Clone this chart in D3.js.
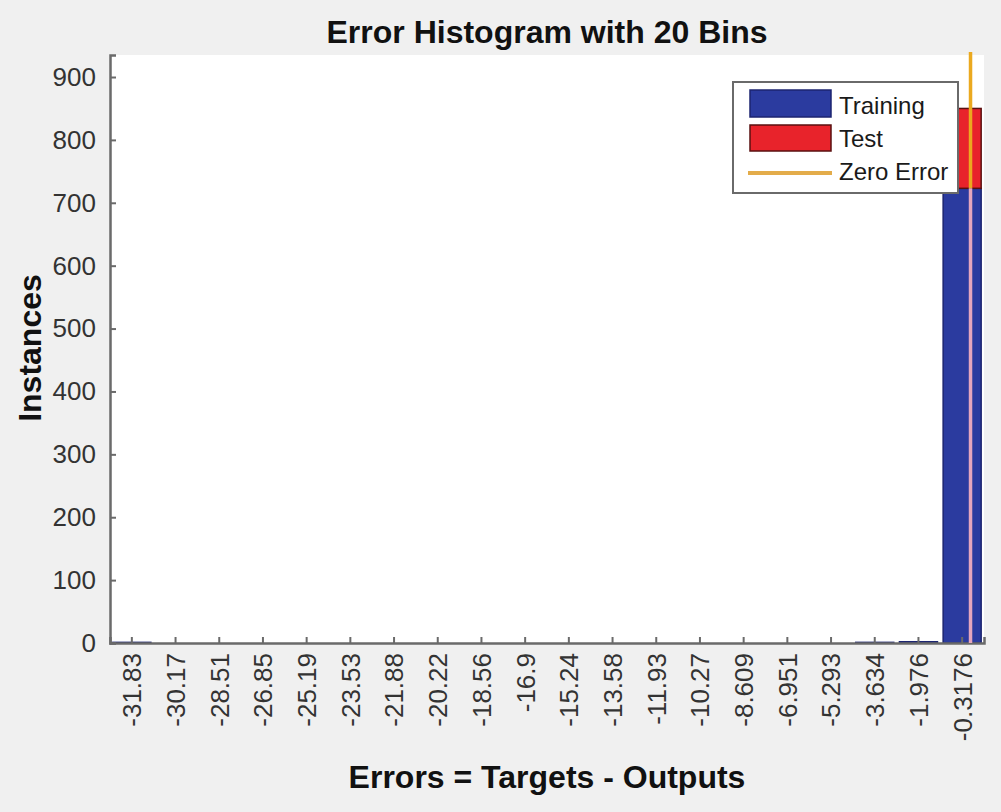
<!DOCTYPE html>
<html>
<head>
<meta charset="utf-8">
<script src="https://cdn.jsdelivr.net/npm/d3@7"></script>
<style>
  body { margin: 0; background: #f0f0f0; }
  text { font-family: Arial, "Liberation Sans", sans-serif; }
</style>
</head>
<body>
<div id="chart"></div>
<script>
// Data
var binLabels = ['-31.83', '-30.17', '-28.51', '-26.85', '-25.19', '-23.53', '-21.88', '-20.22',
  '-18.56', '-16.9', '-15.24', '-13.58', '-11.93', '-10.27', '-8.609', '-6.951', '-5.293',
  '-3.634', '-1.976', '-0.3176'];
var binCenters = binLabels.map(Number);
var trainingCounts = [1, 0, 0, 0, 0, 0, 0, 0, 0, 0, 0, 0, 0, 0, 0, 0, 0, 1, 2, 723];
var testCounts = [0, 0, 0, 0, 0, 0, 0, 0, 0, 0, 0, 0, 0, 0, 0, 0, 0, 0, 0, 127];
var yTicks = [0, 100, 200, 300, 400, 500, 600, 700, 800, 900];
var yMax = 935;

var width = 1001;
var height = 812;
var margin = { top: 55, right: 17, bottom: 169, left: 110 };

var svg = d3.select('#chart')
  .append('svg')
  .attr('width', width)
  .attr('height', height);

svg.append('rect')
  .attr('width', width)
  .attr('height', height)
  .attr('fill', '#f0f0f0');

var plotW = width - margin.left - margin.right;
var plotH = height - margin.top - margin.bottom;

var g = svg.append('g')
  .attr('transform', 'translate(' + margin.left + ',' + margin.top + ')');

g.append('rect')
  .attr('width', plotW)
  .attr('height', plotH)
  .attr('fill', '#ffffff');

// Scales
var binW = (binCenters[binCenters.length - 1] - binCenters[0]) / (binCenters.length - 1);
var xLin = d3.scaleLinear()
  .domain([binCenters[0] - binW / 2, binCenters[binCenters.length - 1] + binW / 2])
  .range([0, plotW]);

var xBand = d3.scaleBand()
  .domain(binLabels)
  .range([0, plotW])
  .paddingInner(0.13)
  .paddingOuter(0.065);

var yScale = d3.scaleLinear()
  .domain([0, yMax])
  .range([plotH, 0]);

// Bars
var bins = binLabels.map(function (l, i) {
  return { label: l, train: trainingCounts[i], test: testCounts[i] };
});

g.selectAll('.bar-train')
  .data(bins)
  .enter()
  .append('rect')
  .attr('class', 'bar-train')
  .attr('x', d => xBand(d.label))
  .attr('width', xBand.bandwidth())
  .attr('y', d => yScale(d.train))
  .attr('height', d => plotH - yScale(d.train))
  .attr('fill', '#2b3b9f')
  .attr('stroke', d => d.train > 0 ? '#1c2470' : 'none')
  .attr('stroke-width', 1.5);

g.selectAll('.bar-test')
  .data(bins.filter(d => d.test > 0))
  .enter()
  .append('rect')
  .attr('class', 'bar-test')
  .attr('x', d => xBand(d.label))
  .attr('width', xBand.bandwidth())
  .attr('y', d => yScale(d.train + d.test))
  .attr('height', d => yScale(d.train) - yScale(d.train + d.test))
  .attr('fill', '#e8232b')
  .attr('stroke', '#5a1010')
  .attr('stroke-width', 1.5);

// Axes
var axisColor = '#6a6a6a';
var tickColor = '#333333';

var yAxis = d3.axisLeft(yScale).tickValues(yTicks).tickSize(-6).tickPadding(14);
var yG = g.append('g').call(yAxis);
yG.select('.domain').attr('stroke', axisColor).attr('stroke-width', 2.5);
yG.selectAll('.tick line').attr('stroke', axisColor).attr('stroke-width', 2);
yG.selectAll('.tick text')
  .attr('fill', tickColor)
  .style('font-size', '26px');

var xAxis = d3.axisBottom(xBand).tickSize(-6).tickPadding(0);
var xG = g.append('g')
  .attr('transform', 'translate(0,' + plotH + ')')
  .call(xAxis);
xG.select('.domain').attr('stroke', axisColor).attr('stroke-width', 2.5);
xG.selectAll('.tick line').attr('stroke', axisColor).attr('stroke-width', 2);
xG.selectAll('.tick text')
  .attr('fill', tickColor)
  .style('font-size', '26px')
  .attr('text-anchor', 'end')
  .attr('transform', 'rotate(-90)')
  .attr('x', -10)
  .attr('y', 0)
  .attr('dy', '0.36em');

// Zero error line
var zx = xLin(0);
var last = bins[bins.length - 1];
g.append('line')
  .attr('x1', zx).attr('x2', zx)
  .attr('y1', -3).attr('y2', yScale(last.train))
  .attr('stroke', '#eba91f')
  .attr('stroke-width', 3.5);
g.append('line')
  .attr('x1', zx).attr('x2', zx)
  .attr('y1', yScale(last.train)).attr('y2', plotH)
  .attr('stroke', '#e6a6bd')
  .attr('stroke-width', 3.5);

// Titles
svg.append('text')
  .attr('x', 547)
  .attr('y', 43)
  .attr('text-anchor', 'middle')
  .style('font-size', '32px')
  .style('font-weight', 'bold')
  .attr('fill', '#111')
  .text('Error Histogram with 20 Bins');

svg.append('text')
  .attr('x', 547)
  .attr('y', 788)
  .attr('text-anchor', 'middle')
  .style('font-size', '32px')
  .style('font-weight', 'bold')
  .attr('fill', '#111')
  .text('Errors = Targets - Outputs');

svg.append('text')
  .attr('transform', 'translate(41,348) rotate(-90)')
  .attr('text-anchor', 'middle')
  .style('font-size', '32px')
  .style('font-weight', 'bold')
  .attr('fill', '#111')
  .text('Instances');

// Legend
var legend = svg.append('g').attr('transform', 'translate(733,82)');
legend.append('rect')
  .attr('width', 225)
  .attr('height', 111)
  .attr('fill', '#ffffff')
  .attr('stroke', '#6a6a6a')
  .attr('stroke-width', 2);

legend.append('rect')
  .attr('x', 17).attr('y', 8)
  .attr('width', 81).attr('height', 27)
  .attr('fill', '#2b3b9f')
  .attr('stroke', '#1c2470')
  .attr('stroke-width', 1.5);
legend.append('rect')
  .attr('x', 17).attr('y', 43)
  .attr('width', 81).attr('height', 26)
  .attr('fill', '#e8232b')
  .attr('stroke', '#5a1010')
  .attr('stroke-width', 1.5);
legend.append('line')
  .attr('x1', 15).attr('x2', 99)
  .attr('y1', 91).attr('y2', 91)
  .attr('stroke', '#e3ac4a')
  .attr('stroke-width', 4);

var legendLabels = ['Training', 'Test', 'Zero Error'];
legend.selectAll('.leg-text')
  .data(legendLabels)
  .enter()
  .append('text')
  .attr('class', 'leg-text')
  .attr('x', 106)
  .attr('y', (d, i) => 32 + i * 33)
  .style('font-size', '24px')
  .attr('fill', '#1a1a1a')
  .text(d => d);
</script>
</body>
</html>
